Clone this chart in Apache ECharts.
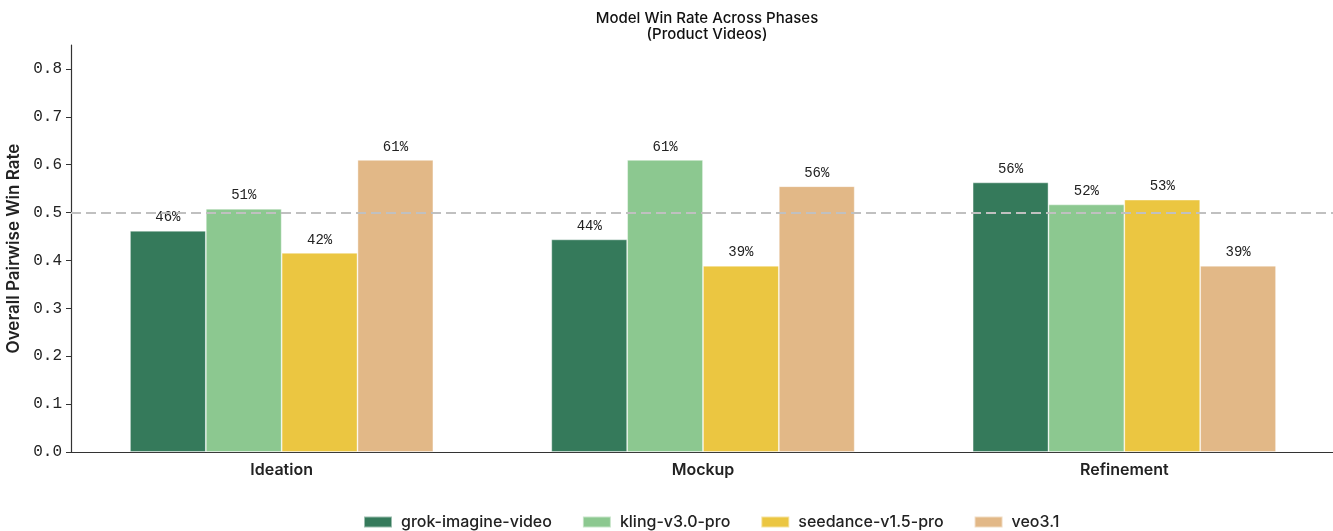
<!DOCTYPE html>
<html>
<head>
<meta charset="utf-8">
<script src="https://cdn.jsdelivr.net/npm/echarts@6/dist/echarts.min.js"></script>
<style>html,body{margin:0;padding:0;background:#fff}#c{width:1333px;height:531px}</style>
</head>
<body>
<div id="c"></div>
<script>
const categories = ['Ideation', 'Mockup', 'Refinement'];
const seriesNames = ['grok-imagine-video', 'kling-v3.0-pro', 'seedance-v1.5-pro', 'veo3.1'];
const grokValues = [0.462, 0.444, 0.563];
const klingValues = [0.508, 0.610, 0.517];
const seedanceValues = [0.416, 0.389, 0.527];
const veoValues = [0.610, 0.555, 0.389];
const yTicks = [0, 0.1, 0.2, 0.3, 0.4, 0.5, 0.6, 0.7, 0.8];
const referenceLine = 0.5;
const colors = ['#357a5b', '#8cc890', '#ebc641', '#e2b887'];

const allValues = [grokValues, klingValues, seedanceValues, veoValues];
const monoFont = '"Liberation Mono", "DejaVu Sans Mono", monospace';
const sansFont = 'Inter, "Noto Sans", sans-serif';

const series = seriesNames.map((name, i) => {
  const s = {
    name: name,
    type: 'bar',
    data: allValues[i],
    barGap: '0%',
    barCategoryGap: '28%',
    itemStyle: { color: colors[i], borderColor: 'rgba(255,255,255,0.5)', borderWidth: 0.8 },
    label: {
      show: true, position: 'top', distance: 6,
      formatter: p => Math.round(p.value * 100) + '%',
      fontFamily: monoFont, fontSize: 14, color: '#222'
    }
  };
  if (i === 0) {
    s.markLine = {
      silent: true, symbol: 'none', label: { show: false },
      lineStyle: { color: '#c0c0c0', type: [10, 5], width: 2 },
      data: [{ yAxis: referenceLine }]
    };
  }
  return s;
});

const chart = echarts.init(document.getElementById('c'));
chart.setOption({
  animation: false,
  color: colors,
  title: {
    text: 'Model Win Rate Across Phases\n(Product Videos)',
    left: 702, top: 5, textAlign: 'center',
    textStyle: { fontFamily: sansFont, fontSize: 15, fontWeight: 500, color: '#111', lineHeight: 16 }
  },
  legend: {
    left: 358, top: 509,
    itemWidth: 28, itemHeight: 11, itemGap: 30,
    icon: 'rect',
    textStyle: { fontFamily: sansFont, fontSize: 16, fontWeight: 500, color: '#222', padding: [0, 0, 0, 4] },
    data: seriesNames
  },
  grid: { left: 71, right: -2, top: 45, bottom: 79, outerBoundsMode: 'none', containLabel: false },
  xAxis: {
    type: 'category', data: categories,
    axisLine: { lineStyle: { color: '#333', width: 1.2 } },
    axisTick: { alignWithLabel: true, length: 5, lineStyle: { color: '#333' } },
    axisLabel: { fontFamily: sansFont, fontSize: 16, fontWeight: 600, color: '#222', margin: 10 }
  },
  yAxis: {
    type: 'value', min: 0, max: 0.85, interval: 0.1,
    name: 'Overall Pairwise Win Rate', nameLocation: 'middle', nameGap: 42,
    nameTextStyle: { fontFamily: sansFont, fontSize: 17, fontWeight: 600, color: '#222' },
    axisLine: { show: true, lineStyle: { color: '#333', width: 1.2 } },
    axisTick: { show: true, length: 5, lineStyle: { color: '#333' }, customValues: yTicks },
    axisLabel: { fontFamily: monoFont, fontSize: 16, color: '#222', margin: 9,
      customValues: yTicks, formatter: v => v.toFixed(1) },
    splitLine: { show: false }
  },
  series: series
});
</script>
</body>
</html>
